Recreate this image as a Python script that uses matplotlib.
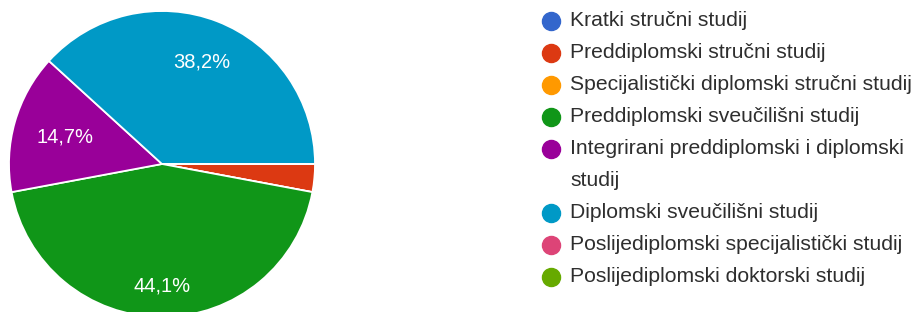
import numpy as np
import matplotlib
matplotlib.use('Agg')
import matplotlib.pyplot as plt

# data (34 responses)
labels = ['Kratki stručni studij',
          'Preddiplomski stručni studij',
          'Specijalistički diplomski stručni studij',
          'Preddiplomski sveučilišni studij',
          'Integrirani preddiplomski i diplomski\nstudij',
          'Diplomski sveučilišni studij',
          'Poslijediplomski specijalistički studij',
          'Poslijediplomski doktorski studij']
counts = [0, 1, 0, 15, 5, 13, 0, 0]
colors = ['#3366cc', '#dc3912', '#ff9900', '#109618',
          '#990099', '#0099c6', '#dd4477', '#66aa00']
# how far out (fraction of radius) each percentage label sits
label_dist = [0.72, 0.72, 0.72, 0.79, 0.66, 0.72, 0.72, 0.72]

plt.rcParams['font.family'] = ['Liberation Sans', 'DejaVu Sans']

W, H = 921, 312
fig = plt.figure(figsize=(W / 100, H / 100), dpi=100)
ax = fig.add_axes([0, 0, 1, 1])

cx, cy, R = 162, 148, 153
vals = np.array(counts, dtype=float)
pct = 100 * vals / vals.sum()

wedges, _ = ax.pie(vals, colors=colors, startangle=0, counterclock=False,
                   center=(cx, cy), radius=R,
                   wedgeprops=dict(edgecolor='white', linewidth=1.3))

# percentage labels inside the bigger slices
for w, p, d in zip(wedges, pct, label_dist):
    if p < 5:
        continue
    ang = np.deg2rad((w.theta1 + w.theta2) / 2)
    ax.text(cx + d * R * np.cos(ang), cy + d * R * np.sin(ang) - 1,
            ('%.1f%%' % p).replace('.', ','), color='white', fontsize=14.5,
            ha='center', va='center')

ax.set_xlim(0, W)
ax.set_ylim(0, H)
ax.set_aspect('equal')
ax.axis('off')

# legend drawn by hand
x0, y0, step = 551, H - 21, 32
row = 0
for lab, col in zip(labels, colors):
    ax.plot(x0, y0 - row * step, 'o', ms=13, color=col, clip_on=False)
    for line in lab.split('\n'):
        ax.text(x0 + 19, y0 - row * step, line, fontsize=15.2, color='#2e2e2e',
                va='center')
        row += 1

fig.savefig('out.png', dpi=100)
